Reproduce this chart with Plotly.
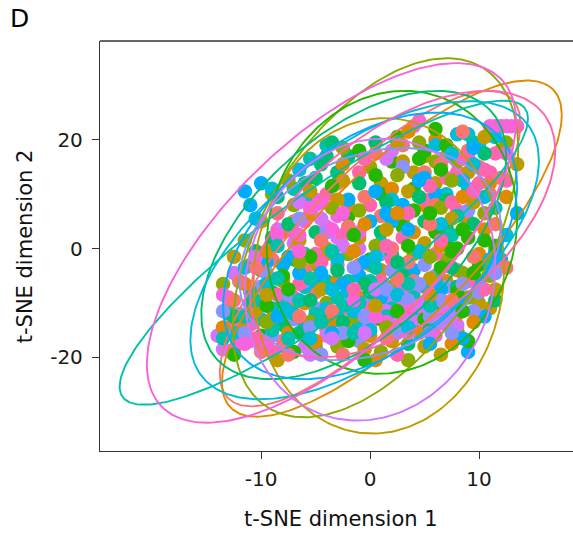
import numpy as np
import plotly.graph_objects as go

# ggplot hue palette, 13 groups
group_colors = ["#F8766D", "#E18A00", "#BE9C00", "#8CAB00", "#24B700", "#00BE70", "#00C1AB",
                "#00BBDA", "#00ACFC", "#8B93FF", "#D575FE", "#F962DD", "#FF65AC"]

# points per group (t-SNE dim1, dim2)
g_salmon = [(-11,-12),(-9,-2),(-7,5),(-5,-8),(-3,12),(-1,-3),(1,6),(3,-10),(5,14),(7,2),(9,18),(11,10),(-8,-17),(-4,-15),(0,-12),(2,0),(4,-6),(6,8),(8,-4),(10,15),(-6,-4),(-2,4),(12,13),(-10,-19),(3,19),(-12,-6),(6,-14),
            (-12.5,-9.5),(-10.5,-3.5),(-8.5,6.5),(-6.5,-12.5),(-4.5,1.5),(-2.5,-19.5),(-0.5,9.5),(1.5,-16.5),(3.5,-2.5),(5.5,4.5),(7.5,-9.5),(9.5,-1.5),(11.5,4.5),(12.5,-3.5),(0.5,17.5),(-3.5,-11.5),(6.5,15.5),(8.5,21.5),(-7.5,-19.5),(2.5,-5.5)]
g_orange = [(-13,-11),(-8,3),(-4,-1),(-1,-9),(1,-4),(3,-13),(5,8),(7,-6),(9,5),(11,12),(-6,-10),(-2,8),(0,-16),(2,11),(4,3),(6,20),(8,-12),(-5,-17),(-3,-6),(12,18),(-9,-13),(10,-1),
            (-13.5,-14.5),(-11.5,-6.5),(-9.5,-0.5),(-7.5,-15.5),(-5.5,6.5),(-3.5,-13.5),(-1.5,-0.5),(0.5,-20.5),(2.5,6.5),(4.5,-15.5),(6.5,0.5),(8.5,9.5),(10.5,3.5),(12.5,9.5),(-0.5,4.5),(3.5,21.5),(7.5,-17.5),(-2.5,15.5),(5.5,-8.5),(9.5,-13.5)]
g_gold = [(-10,5),(-7,-10),(-4,0),(-2,-14),(0,-3),(1,12),(2,-8),(4,14),(5,-18),(6,12),(8,-15),(10,-10),(11,-11),(-12,-14),(-5,-3),(3,16),(7,17),(-1,2),(9,14),(-8,-6),(-3,9),(2,-17),(5,1),
          (-12.5,-1.5),(-10.5,-11.5),(-8.5,-20.5),(-6.5,1.5),(-4.5,-7.5),(-2.5,12.5),(-0.5,-18.5),(1.5,3.5),(3.5,10.5),(5.5,-5.5),(7.5,5.5),(9.5,8.5),(11.5,-7.5),(13.5,15.5),(-5.5,10.5),(0.5,-10.5),(2.5,19.5),(6.5,-19.5),(10.5,20.5),(-9.5,-8.5)]
g_olive = [(-11,-3),(-9,10),(-6,-7),(-4,-10),(-2,-1),(0,15),(2,-7),(3,5),(5,17),(6,16),(7,-2),(9,-9),(-7,8),(-5,-18),(1,-19),(4,-1),(8,16),(-3,-18),(-10,-18),(11,-5),(-1,7),
           (-13.5,-6.5),(-11.5,1.5),(-9.5,-13.5),(-7.5,12.5),(-5.5,-13.5),(-3.5,7.5),(-1.5,-12.5),(0.5,0.5),(2.5,13.5),(4.5,19.5),(6.5,7.5),(8.5,-4.5),(10.5,6.5),(12.5,19.5),(-6.5,-2.5),(1.5,-14.5),(3.5,-20.5),(7.5,12.5),(-2.5,18.5),(5.5,-1.5)]
g_green = [(-10,-16),(-6,-16),(-4,-12),(-2,6),(0,-2),(1,10),(2,16),(3,4),(4,7),(5,18),(6,3),(7,1),(8,0),(9,2),(10,-3),(8,-8),(3,-15),(-2,-17),(5,-13),(6,22),(7,19),(-1,18),(4,11),(-8,-5),(1,-13),(7,4),(-7,-19),(9,-17),
           (-12.5,-19.5),(-9.5,-10.5),(-7.5,-7.5),(-5.5,-1.5),(-3.5,11.5),(-1.5,2.5),(0.5,13.5),(2.5,20.5),(3.5,0.5),(5.5,6.5),(6.5,-3.5),(7.5,-0.5),(8.5,3.5),(9.5,-4.5),(10.5,1.5),(11.5,0.5),(4.5,16.5),(-0.5,-20.5),(2.5,-11.5),(6.5,14.5),(8.5,-11.5)]
g_tealgreen = [(-11,-10),(-9,-8),(-8,-14),(-6,12),(-5,3),(-3,14),(-2,17),(-4,17),(0,-8),(1,3),(2,-1),(3,-5),(4,-15),(6,-10),(8,-7),(-7,-2),(-9,2),(-1,12),(5,5),(-5,13),(-3,-4),(7,9),
               (-12.5,-12.5),(-10.5,-0.5),(-8.5,9.5),(-6.5,-15.5),(-4.5,15.5),(-2.5,-13.5),(-0.5,-6.5),(1.5,8.5),(3.5,-17.5),(5.5,-14.5),(7.5,-3.5),(9.5,4.5),(11.5,-9.5),(-3.5,19.5),(-7.5,4.5),(0.5,19.5),(4.5,9.5),(10.5,17.5),(-5.5,-9.5),(2.5,-2.5)]
g_teal = [(-13,-12),(-12,-16),(-11,-8),(-10,-4),(-9,-11),(-8,-9),(-7,-12),(-6,-1),(-5,-12),(-4,-6),(-3,-9),(-2,-6),(-1,-10),(0,-6),(2,-11),(4,-9),(6,-6),(-7,11),(-4,19),(1,1),(8,6),(-9,-15),
          (-13.5,-16.5),(-11.5,-12.5),(-10.5,-9.5),(-8.5,-5.5),(-7.5,-16.5),(-6.5,-9.5),(-5.5,-5.5),(-4.5,-13.5),(-3.5,-0.5),(-2.5,-10.5),(-1.5,-15.5),(0.5,-3.5),(1.5,-12.5),(3.5,-6.5),(5.5,-10.5),(7.5,2.5),(-8.5,0.5),(-5.5,16.5),(9.5,19.5),(11.5,7.5)]
g_cyan = [(-12,-6),(-10,-13),(-8,-10),(-6,-7),(-4,-11),(-3,-2),(-1,-14),(1,-7),(3,-3),(5,-7),(7,10),(8,21),(9,11),(10,19),(9,21),(6,19),(-9,11),(-6,9),(-2,-8),(0,-15),(4,-11),(11,-2),(2,9),
          (-12.5,-15.5),(-11.5,-3.5),(-9.5,-6.5),(-7.5,-11.5),(-5.5,-16.5),(-3.5,-7.5),(-1.5,-11.5),(0.5,-1.5),(2.5,-8.5),(4.5,-0.5),(6.5,4.5),(8.5,12.5),(10.5,9.5),(11.5,20.5),(7.5,17.5),(9.5,15.5),(-6.5,14.5),(-10.5,5.5),(3.5,-14.5),(12.5,2.5)]
g_blue = [(-10,12),(-11,8),(-8,-3),(-5,-6),(-3,-12),(-1,-5),(0,5),(2,5),(3,8),(4,-4),(5,-1),(6,10),(8,-10),(10,-6),(11,-3),(9,-19),(-6,-14),(1,-9),(7,-13),(-2,9),(5,13),(12,-2),
          (-11.5,10.5),(-9.5,-2.5),(-7.5,-1.5),(-6.5,-4.5),(-4.5,-4.5),(-2.5,-6.5),(-0.5,-2.5),(1.5,6.5),(3.5,3.5),(4.5,12.5),(6.5,-7.5),(8.5,-16.5),(10.5,-12.5),(11.5,-0.5),(13.5,6.5),(-3.5,-15.5),(0.5,10.5),(5.5,-17.5),(9.5,18.5),(-8.5,-12.5)]
g_lavender = [(-12,-12),(-10,-7),(-7,-13),(-5,-11),(-3,-17),(-1,-17),(0,-10),(1,-1),(2,-4),(3,-8),(4,-11),(5,-3),(6,-5),(7,-7),(8,-9),(-4,3),(-6,-6),(3,15),(9,7),(-9,-16),(2,-14),(10,-8),
              (-13.5,-11.5),(-11.5,-15.5),(-9.5,-4.5),(-7.5,-8.5),(-5.5,-14.5),(-4.5,-19.5),(-2.5,-15.5),(-0.5,-12.5),(1.5,-7.5),(2.5,-15.5),(3.5,-9.5),(4.5,-6.5),(5.5,-12.5),(6.5,-9.5),(8.5,-6.5),(9.5,-11.5),(-6.5,5.5),(-1.5,-3.5),(7.5,-15.5),(11.5,-4.5)]
g_violet = [(-14,-16),(-9,1),(-7,1),(-5,8),(-3,2),(-1,0),(1,-10),(2,-9),(3,-11),(4,-8),(5,-10),(6,-12),(-6,-18),(-4,-16),(0,-14),(8,-14),(-2,4),(4,-13),(7,-11),(2,18),(-11,-17),
            (-13.5,-18.5),(-12.5,-4.5),(-10.5,-1.5),(-8.5,3.5),(-6.5,8.5),(-4.5,5.5),(-2.5,0.5),(0.5,-7.5),(1.5,-11.5),(2.5,-12.5),(3.5,-12.5),(4.5,-10.5),(5.5,-11.5),(6.5,-13.5),(-5.5,-19.5),(-0.5,-15.5),(7.5,-12.5),(3.5,-15.5),(1.5,16.5),(-3.5,-16.5)]
g_pink = [(-13,-9),(-12,-17),(-10,-18),(-8,-18),(-6,5),(-5,9),(-4,4),(-3,6),(-7,3),(-2,-8),(0,-11),(2,-13),(4,-10),(5,-12),(6,-16),(11,22.5),(12,22.5),(13,22.5),(12.5,22.5),(4,22.5),(-1,3),(3,-7),(7,-14),
          (-13.5,-8.5),(-12.5,-18.5),(-11.5,-17.5),(-9.5,-17.5),(-8.5,2.5),(-6.5,2.5),(-5.5,7.5),(-4.5,8.5),(-3.5,3.5),(-2.5,6.5),(-1.5,-9.5),(0.5,-12.5),(1.5,-13.5),(3.5,-11.5),(5.5,-15.5),(11.5,22.5),(13.5,22.5),(4.5,23.5),(-6.5,-0.5),(12.5,17.5)]
g_rose = [(-11,-14),(-9,-19),(-7,-9),(-5,-1),(-3,-3),(-1,14),(0,8),(1,-6),(3,2),(5,9),(7,13),(8,14),(9,17),(10,12),(11,14),(8,7),(6,-1),(-2,-11),(-4,10),(2,-2),(9,-6),
          (-12.5,-13.5),(-10.5,-16.5),(-8.5,-8.5),(-6.5,-6.5),(-4.5,-2.5),(-2.5,2.5),(-0.5,16.5),(1.5,0.5),(3.5,6.5),(5.5,11.5),(7.5,8.5),(8.5,16.5),(10.5,14.5),(11.5,17.5),(12.5,12.5),(9.5,10.5),(6.5,1.5),(-1.5,-7.5),(2.5,-19.5),(10.5,-7.5)]

groups = [g_salmon, g_orange, g_gold, g_olive, g_green, g_tealgreen, g_teal,
          g_cyan, g_blue, g_lavender, g_violet, g_pink, g_rose]

# ellipse parameters per group: centre x, centre y, half-width x, half-height y, correlation
ell_cx = [0.0, 2.0, 0.8, 0.5, 2.0, -1.5, -4.25, -0.5, 0.0, 0.0, 0.0, -3.55, 3.0]
ell_cy = [0.0, 0.0, -5.0, 2.0, 3.0, 2.5, -0.75, -0.3, 0.5, -1.0, -5.7, 1.05, 4.5]
ell_ax = [13.8, 15.6, 11.5, 13.1, 11.5, 14.0, 18.75, 16.0, 13.5, 12.0, 11.5, 16.95, 14.0]
ell_ay = [29.0, 30.9, 29.0, 33.0, 26.0, 26.5, 27.95, 27.4, 24.5, 19.5, 25.9, 33.05, 24.5]
ell_r = [0.79, 0.795, 0.05, 0.5, 0.1, 0.55, 0.88, 0.6, 0.45, 0.25, 0.1, 0.675, 0.55]

x_ticks = [-10, 0, 10]
y_ticks = [-20, 0, 20]

fig = go.Figure()

# interleave points so colours mix like the original
px, py, pc = [], [], []
maxlen = max(len(g) for g in groups)
for i in range(maxlen):
    for g, col in zip(groups, group_colors):
        if i < len(g):
            px.append(g[i][0]); py.append(g[i][1]); pc.append(col)

fig.add_trace(go.Scatter(x=px, y=py, mode="markers",
                         marker=dict(color=pc, size=14.5, line=dict(width=0)),
                         showlegend=False, hoverinfo="skip"))

t = np.linspace(0, 2 * np.pi, 241)
for cx, cy, ax, ay, r, col in zip(ell_cx, ell_cy, ell_ax, ell_ay, ell_r, group_colors):
    ex = cx + ax * np.cos(t)
    ey = cy + ay * (r * np.cos(t) + np.sqrt(1 - r * r) * np.sin(t))
    fig.add_trace(go.Scatter(x=ex, y=ey, mode="lines", line=dict(color=col, width=1.9),
                             showlegend=False, hoverinfo="skip"))

axis_common = dict(showgrid=False, zeroline=False, ticks="outside", ticklen=7,
                   tickwidth=1.3, tickcolor="#333333", showline=True, linecolor="#333333",
                   linewidth=1.3, tickfont=dict(family="DejaVu Sans", size=20, color="#1a1a1a"))

fig.update_layout(
    width=573, height=533,
    margin=dict(l=100, r=0, t=41, b=82),
    plot_bgcolor="white", paper_bgcolor="white",
    xaxis=dict(range=[-24.8, 18.63], tickvals=x_ticks, ticktext=[str(v) for v in x_ticks],
               ticklabelstandoff=3, **axis_common),
    yaxis=dict(range=[-37.2, 38.16], tickvals=y_ticks, ticktext=[str(v) for v in y_ticks],
               ticklabelstandoff=5, **axis_common),
    shapes=[dict(type="line", xref="paper", yref="paper", x0=0, x1=1, y0=1, y1=1,
                 line=dict(color="#333333", width=1.3))],
    annotations=[
        dict(text="D", xref="paper", yref="paper", x=-0.194, y=1.054, xanchor="left",
             yanchor="middle", showarrow=False, font=dict(family="DejaVu Sans", size=25, color="#000")),
        dict(text="t-SNE dimension 1", xref="paper", yref="paper", x=(341 - 100) / 473, y=-0.167,
             xanchor="center", yanchor="middle", showarrow=False,
             font=dict(family="DejaVu Sans", size=21, color="#111")),
        dict(text="t-SNE dimension 2", xref="paper", yref="paper", x=-0.158, y=0.5,
             xanchor="center", yanchor="middle", textangle=-90, showarrow=False,
             font=dict(family="DejaVu Sans", size=21, color="#111")),
    ],
)

fig.write_html("out.html")
